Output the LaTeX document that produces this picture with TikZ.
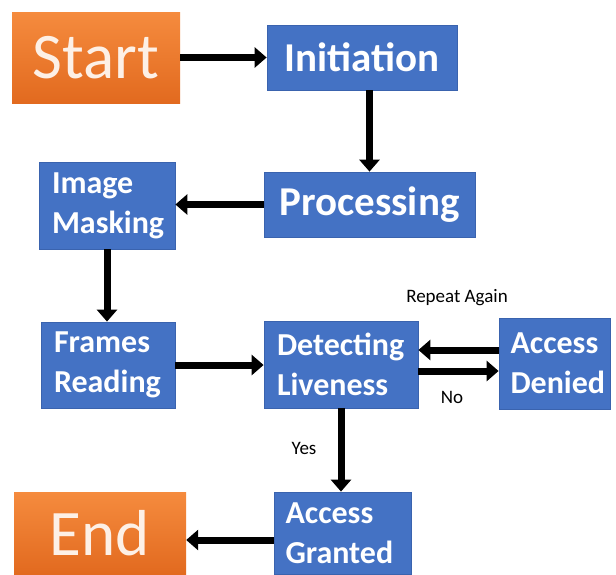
\documentclass[tikz,border=0pt]{standalone}
\usepackage{fontspec}
\setmainfont{Carlito}
\usetikzlibrary{arrows.meta}
\definecolor{boxblue}{HTML}{4472C4}
\definecolor{boxedge}{HTML}{3A63AE}
\definecolor{orangetop}{HTML}{F58B3E}
\definecolor{orangebot}{HTML}{E26A1F}
\definecolor{termtext}{HTML}{FDF0E6}
\tikzset{
  box/.style={fill=boxblue, draw=boxedge, line width=0.8pt, text=white, inner sep=0pt,
    font=\bfseries\fontsize{32}{40}\selectfont, align=left},
  bigbox/.style={box, font=\bfseries\fontsize{41}{48}\selectfont, align=center},
  term/.style={top color=orangetop, bottom color=orangebot, draw=none, text=termtext,
    inner sep=0pt, font=\fontsize{65}{70}\selectfont},
  arr/.style={line width=7pt, -{Triangle[length=12pt,width=20pt]}},
  lbl/.style={font=\fontsize{19}{22}\selectfont}
}
\begin{document}
\begin{tikzpicture}[x=1pt,y=-1pt]
\useasboundingbox (0,0) rectangle (616,574);
\clip (0,0) rectangle (616,574);
\fill[white] (0,0) rectangle (616,574);

\node[term, minimum width=168pt, minimum height=91pt] (start) at (96,57.5) {Start};
\node[bigbox, minimum width=190pt, minimum height=65pt] (init) at (362,57.5) {Initiation};
\node[bigbox, minimum width=211pt, minimum height=65pt] (proc) at (369.5,204.5) {Processing};
\node[box, minimum width=136pt, minimum height=87pt, text width=110pt] (mask) at (107,205.5) {Image\\Masking};
\node[box, minimum width=134pt, minimum height=86pt, text width=108pt] (frames) at (108,365) {Frames\\Reading};
\node[box, minimum width=154pt, minimum height=87pt, text width=128pt] (detect) at (341,364.5) {Detecting\\Liveness};
\node[box, minimum width=111pt, minimum height=91pt, text width=88pt] (denied) at (554.5,363.5) {Access\\Denied};
\node[box, minimum width=137pt, minimum height=82pt, text width=114pt] (granted) at (342.5,533) {Access\\Granted};
\node[term, minimum width=172pt, minimum height=82pt] (end) at (100,533) {End};

\node[lbl] (repeat) at (457,298) {Repeat Again};
\node[lbl] (no) at (452,397) {No};
\node[lbl] (yes) at (304,448) {Yes};

\draw[arr] (start.east) -- (init.west);
\draw[arr] (init.south -| proc.north) -- (proc.north);
\draw[arr] (proc.west) -- (proc.west -| mask.east);
\draw[arr] (mask.south) -- (mask.south |- frames.north);
\draw[arr] (frames.east) -- (frames.east -| detect.west);
\draw[arr] ([yshift=13.5pt]denied.west) -- ([yshift=13.5pt]denied.west -| detect.east);
\draw[arr] ([yshift=-6.5pt]detect.east) -- ([yshift=-6.5pt]detect.east -| denied.west);
\draw[arr] (detect.south) -- (detect.south |- granted.north);
\draw[arr] ([yshift=-7pt]granted.west) -- ([yshift=-7pt]granted.west -| end.east);
\end{tikzpicture}
\end{document}
